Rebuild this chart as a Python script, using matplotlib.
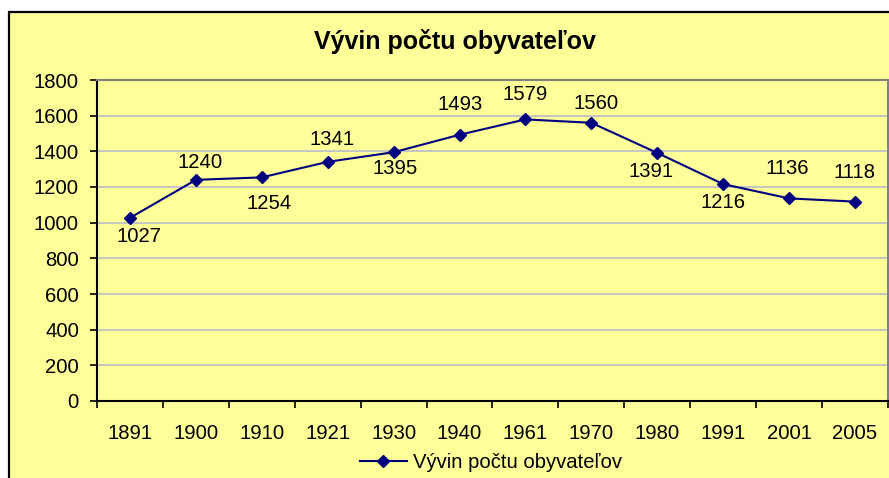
import matplotlib
matplotlib.use('Agg')
import matplotlib.pyplot as plt
from matplotlib.patches import Rectangle
from matplotlib.lines import Line2D

plt.rcParams['font.family'] = ['Liberation Sans', 'DejaVu Sans']

years = ['1891', '1900', '1910', '1921', '1930', '1940', '1961', '1970', '1980', '1991', '2001', '2005']
population = [1027, 1240, 1254, 1341, 1395, 1493, 1579, 1560, 1391, 1216, 1136, 1118]
series_name = 'Vývin počtu obyvateľov'
title = 'Vývin počtu obyvateľov'

# data label placement (pixels from the point, as in the original sheet)
label_offsets = [(9, -19), (4, 17), (7, -26), (4, 22), (2, -16), (1, 30),
                 (0, 25), (5, 19), (-6, -19), (0, -18), (-2, 30), (-1, 29)]

W, H = 889, 478
fig = plt.figure(figsize=(W / 100, H / 100), dpi=100)
fig.patch.set_facecolor('white')

# yellow chart area with black border (cut off at right and bottom)
fig.patches.append(Rectangle((9 / W, -0.1), 1.2, 1.1 - 12 / H,
                             transform=fig.transFigure, facecolor='#FFFF99',
                             edgecolor='black', linewidth=1.6, zorder=-1))

ax = fig.add_axes([97 / W, 1 - 401 / H, 791 / W, 321 / H])
ax.set_zorder(1)
ax.set_facecolor('#FFFF99')

x = list(range(len(years)))
ax.plot(x, population, color='#000080', linewidth=1.5, marker='D',
        markersize=6, markerfacecolor='#000080', markeredgecolor='#000080', zorder=3)

for xi, v, (dx, dy) in zip(x, population, label_offsets):
    ax.annotate(str(v), (xi, v), xytext=(dx, dy), textcoords='offset pixels',
                ha='center', va='center', fontsize=14.6, color='black')

ax.set_xlim(-0.5, len(years) - 0.5)
ax.set_ylim(0, 1800)
ax.set_yticks(range(0, 1801, 200))
ax.yaxis.grid(True, color='#C4C4C4', linewidth=1.4)
ax.set_axisbelow(True)

ax.set_xticks([i - 0.5 for i in range(len(years) + 1)])
ax.set_xticklabels([])
ax.set_xticks(x, minor=True)
ax.set_xticklabels(years, minor=True)
ax.tick_params(axis='x', which='minor', length=0, pad=16.5, labelsize=14.6)
ax.tick_params(axis='x', which='major', length=5, width=1.2, direction='out', color='black')
ax.tick_params(axis='y', length=5, width=1.2, direction='out', pad=8, labelsize=14.6)

for side in ['left', 'bottom']:
    ax.spines[side].set_color('black')
    ax.spines[side].set_linewidth(1.5)
for side in ['right', 'top']:
    ax.spines[side].set_color('#808080')
    ax.spines[side].set_linewidth(1.5)

fig.text(455 / W, 1 - 42 / H, title, ha='center', va='center',
         fontsize=18, fontweight='bold')

handle = Line2D([], [], color='#000080', linewidth=1.5, marker='D', markersize=6)
fig.legend([handle], [series_name], loc='center', bbox_to_anchor=(491 / W, 1 - 463 / H),
           frameon=False, fontsize=14.6, handlelength=2.3, handletextpad=0.3)

fig.savefig('out.png', dpi=100, facecolor=fig.get_facecolor())
